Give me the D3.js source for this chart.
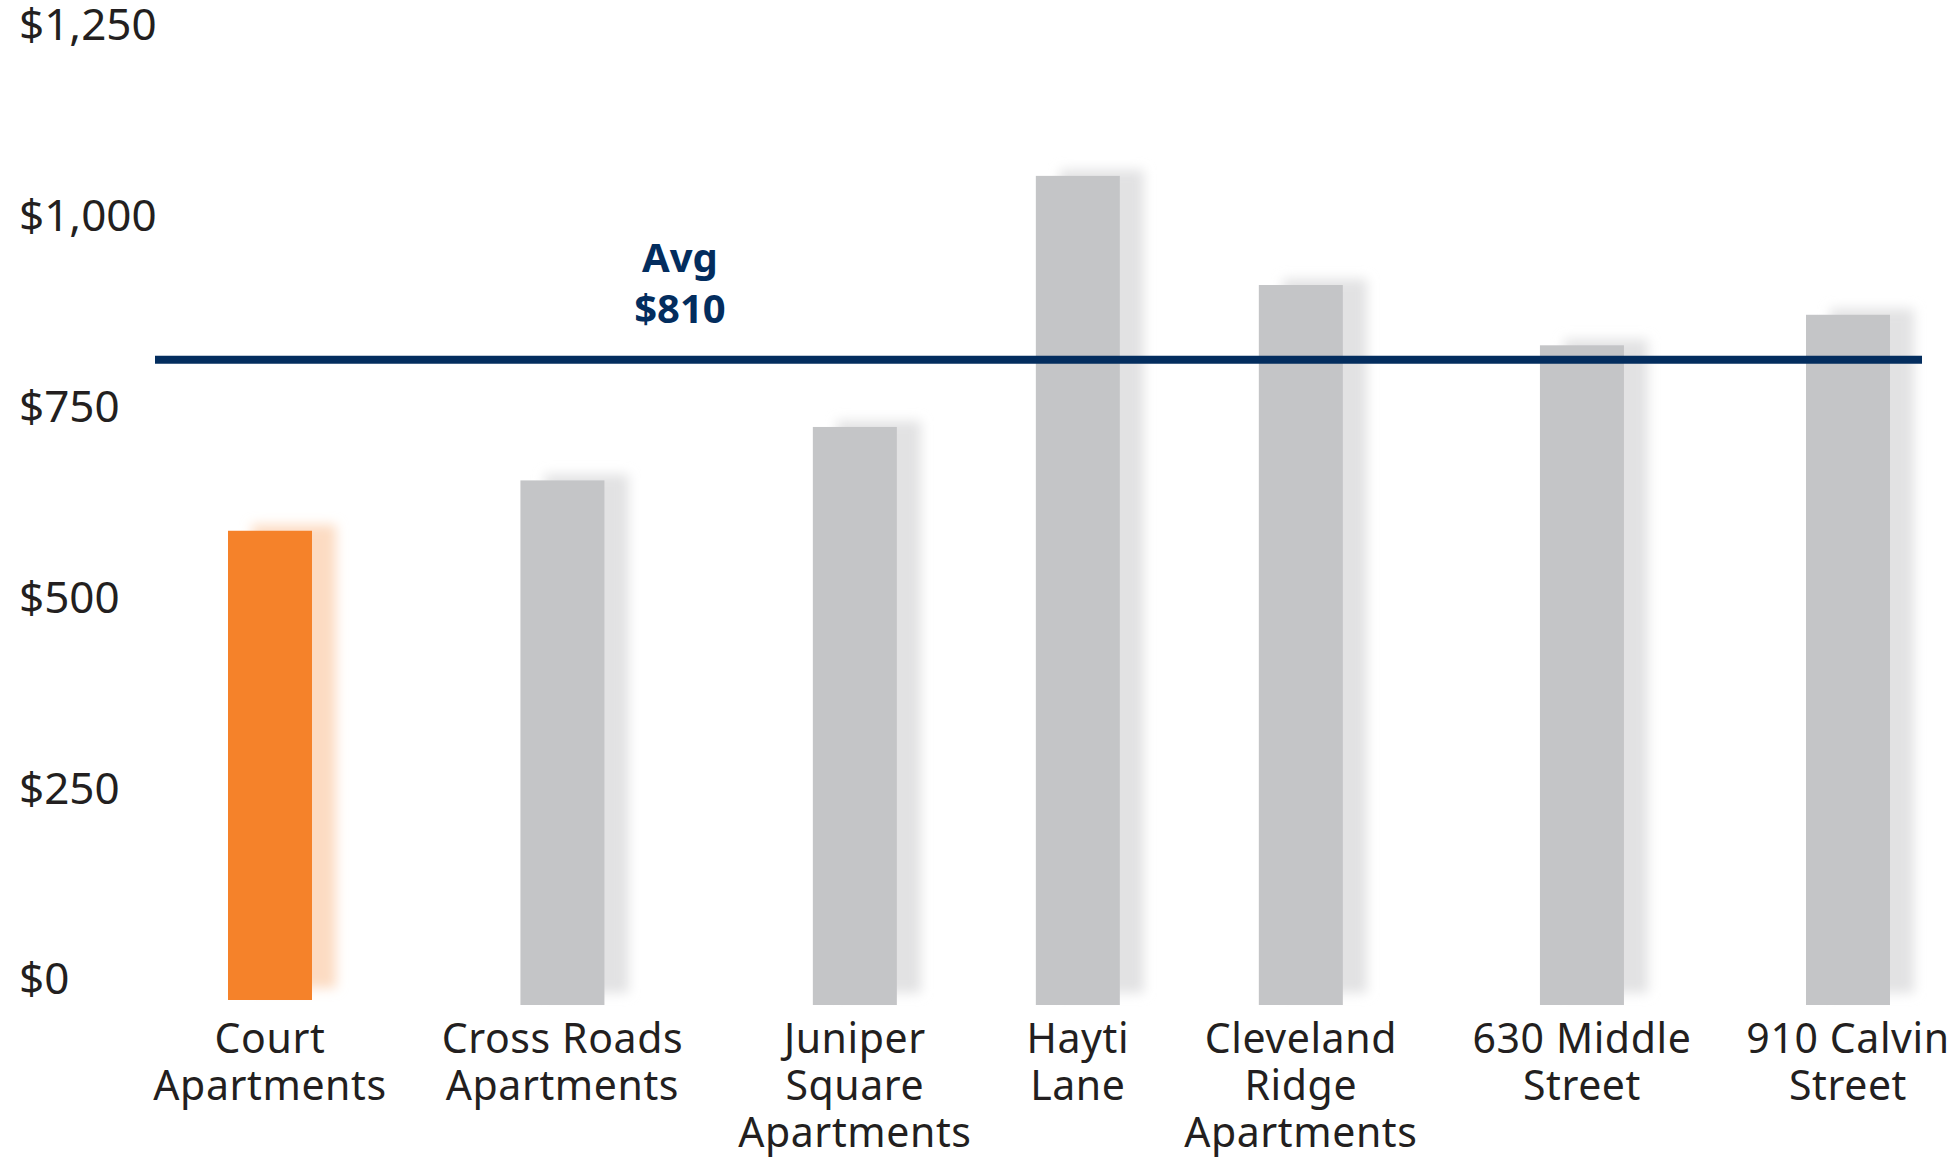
<!DOCTYPE html>
<html>
<head>
<meta charset="utf-8">
<script src="https://cdn.jsdelivr.net/npm/d3@7/dist/d3.min.js"></script>
<style>
  body { margin: 0; background: #fff; }
  svg text { font-family: "Segoe UI", "Noto Sans", "Open Sans", sans-serif; fill: #231f20; }
</style>
</head>
<body>
<svg id="chart" width="1957" height="1159"></svg>
<script>
// данные
var properties = [
    ['Court', 'Apartments'],
    ['Cross Roads', 'Apartments'],
    ['Juniper', 'Square', 'Apartments'],
    ['Hayti', 'Lane'],
    ['Cleveland', 'Ridge', 'Apartments'],
    ['630 Middle', 'Street'],
    ['910 Calvin', 'Street']
];
var rents = [586, 652, 722, 1051, 908, 829, 869];
var highlighted = [true, false, false, false, false, false, false];
var avgRent = 810;
var yTicks = [0, 250, 500, 750, 1000, 1250];

var svg = d3.select('#chart');
var keys = properties.map(p => p.join(' '));
var rows = properties.map((p, i) => ({ key: keys[i], lines: p, value: rents[i], hi: highlighted[i] }));

var barWidth = 84;
var barBottom = 1005; // столбцы уходят ниже нуля, как на оригинале
var firstCenter = 270, lastCenter = 1848;

var y = d3.scaleLinear()
    .domain([0, 1250])
    .range([978, 24]);

// подписи категорий — сначала рисуем, чтобы измерить ширину
var labels = svg.append('g').selectAll('text')
    .data(rows)
    .enter()
    .append('text')
    .attr('y', 1053)
    .style('text-anchor', 'middle')
    .style('font-size', '41px')
    .style('letter-spacing', '0.6px');

labels.selectAll('tspan')
    .data(d => d.lines)
    .enter()
    .append('tspan')
    .attr('dy', (d, i) => i === 0 ? 0 : 47)
    .text(d => d);

// ширина каждой подписи, промежутки между ними одинаковые
var widths = [];
labels.each(function () {
    var w = 0;
    d3.select(this).selectAll('tspan').each(function () {
        w = Math.max(w, this.getComputedTextLength());
    });
    widths.push(w);
});
var inner = d3.sum(widths.slice(1), (w, i) => (w + widths[i]) / 2);
var gap = (lastCenter - firstCenter - inner) / (widths.length - 1);
var centers = [firstCenter];
for (var i = 1; i < widths.length; i++) {
    centers.push(centers[i - 1] + (widths[i - 1] + widths[i]) / 2 + gap);
}

var x = d3.scaleOrdinal()
    .domain(keys)
    .range(centers);

labels.selectAll('tspan').attr('x', function () {
    return x(d3.select(this.parentNode).datum().key);
});

// размытие для тени
var defs = svg.append('defs');
defs.append('filter')
    .attr('id', 'blur')
    .attr('x', '-50%').attr('y', '-10%')
    .attr('width', '200%').attr('height', '120%')
    .append('feGaussianBlur')
    .attr('stdDeviation', 6);

// ось Y — только подписи
var yAxis = d3.axisLeft(y)
    .tickValues(yTicks)
    .tickSize(0)
    .tickFormat(d => '$' + d3.format(',')(d));

var gy = svg.append('g')
    .attr('transform', 'translate(19,0)')
    .call(yAxis);
gy.select('.domain').remove();
gy.selectAll('text')
    .attr('x', 0)
    .attr('dy', '0.36em')
    .style('text-anchor', 'start')
    .style('font-size', '44px');

function bottom(d) { return d.hi ? barBottom - 5 : barBottom; }

// тени
svg.append('g').selectAll('rect')
    .data(rows)
    .enter()
    .append('rect')
    .attr('x', d => x(d.key) - barWidth / 2 + 24)
    .attr('y', d => y(d.value) - 6)
    .attr('width', barWidth)
    .attr('height', d => bottom(d) - y(d.value) - 6)
    .attr('fill', d => d.hi ? '#fcdbc2' : '#e2e2e3')
    .attr('filter', 'url(#blur)');

// столбцы
svg.append('g').selectAll('rect')
    .data(rows)
    .enter()
    .append('rect')
    .attr('x', d => x(d.key) - barWidth / 2)
    .attr('y', d => y(d.value))
    .attr('width', barWidth)
    .attr('height', d => bottom(d) - y(d.value))
    .attr('fill', d => d.hi ? '#f5822a' : '#c4c5c7');

// линия среднего
svg.append('line')
    .attr('x1', 155)
    .attr('x2', 1922)
    .attr('y1', y(avgRent))
    .attr('y2', y(avgRent))
    .attr('stroke', '#032d5e')
    .attr('stroke-width', 8);

var avgLabel = svg.append('text')
    .attr('x', 680)
    .attr('y', y(avgRent) - 88)
    .style('text-anchor', 'middle')
    .style('font-size', '40px')
    .style('font-weight', 'bold')
    .style('fill', '#032d5e');
avgLabel.append('tspan').attr('x', 680).text('Avg');
avgLabel.append('tspan').attr('x', 680).attr('dy', 51).text('$' + avgRent);
</script>
</body>
</html>
